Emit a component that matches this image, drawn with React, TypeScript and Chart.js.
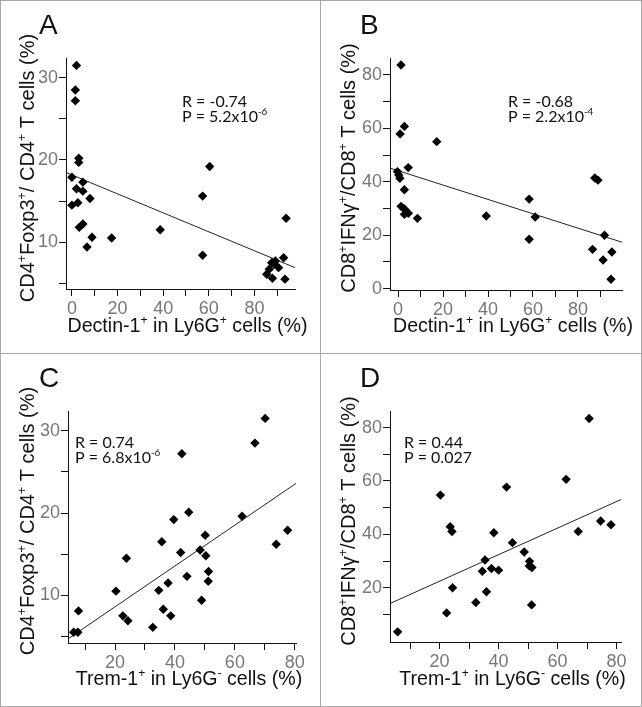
import React, { useEffect, useRef } from 'react';
import { Chart, registerables } from 'chart.js';

Chart.register(...registerables);

// ---------- Data ----------
// Panel A: Dectin-1+ in Ly6G+ (%) vs CD4+Foxp3+/CD4+ (%)
const dectinA = [2.0, 1.5, 1.5, 3.0, 3.0, 0.0, 2.0, 4.8, 4.8, 0.0, 2.6, 7.9, 3.2, 4.8, 8.8, 6.6, 17.4, 38.7, 57.3, 60.4, 57.3, 93.9, 92.8, 93.4, 87.6, 89.2, 90.6, 86.5, 85.4, 87.9, 88.6];
const tregA = [31.5, 28.5, 27.2, 20.2, 19.7, 17.9, 16.5, 17.3, 16.2, 14.5, 14.8, 15.3, 11.8, 12.2, 10.6, 9.4, 10.5, 11.5, 15.6, 19.2, 8.4, 12.9, 8.1, 5.5, 7.5, 7.7, 6.9, 6.7, 6.1, 5.6, 7.3];
const fitAx = [-2.8, 97.8];
const fitAy = [18.5, 6.9];

// Panel B: Dectin-1+ in Ly6G+ (%) vs CD8+IFNg+/CD8+ (%)
const dectinB = [1.3, 0.9, 2.8, 17.2, -0.3, 0.3, 0.8, 4.5, 2.8, 1.3, 2.8, 2.8, 4.6, 8.6, 39.2, 58.3, 61.0, 58.3, 87.5, 88.9, 91.8, 86.5, 91.2, 95.1, 94.7];
const ifngB = [83.7, 57.9, 60.7, 55.0, 43.8, 42.5, 41.3, 45.3, 37.0, 30.8, 29.8, 27.8, 28.2, 26.3, 27.2, 33.5, 26.8, 18.5, 41.4, 40.6, 20.0, 14.7, 10.7, 13.7, 3.5];
const fitBx = [-3.6, 99.9];
const fitBy = [45.1, 17.3];

// Panel C: Trem-1+ in Ly6G- (%) vs CD4+Foxp3+/CD4+ (%)
const tremC = [70.1, 66.7, 42.3, 44.6, 39.6, 62.4, 77.6, 73.8, 50.1, 35.6, 48.4, 41.9, 50.3, 23.8, 51.2, 51.1, 44.0, 37.7, 34.6, 20.3, 48.9, 36.1, 7.8, 22.6, 38.6, 24.3, 32.6, 6.2, 7.6];
const tregC = [31.5, 28.5, 27.2, 20.1, 19.2, 19.6, 17.9, 16.2, 17.3, 16.5, 15.5, 15.2, 14.8, 14.5, 12.9, 11.7, 12.3, 11.5, 10.6, 10.5, 9.4, 8.3, 8.1, 7.5, 7.5, 6.9, 6.1, 5.5, 5.5];
const fitCx = [4.3, 80.4];
const fitCy = [4.7, 23.6];

// Panel D: Trem-1+ in Ly6G- (%) vs CD8+IFNg+/CD8+ (%)
const tremD = [70.7, 62.9, 42.7, 20.3, 23.6, 24.2, 38.4, 67.0, 74.6, 78.1, 44.7, 48.7, 35.4, 50.5, 50.4, 51.3, 37.6, 40.0, 34.5, 24.4, 35.9, 32.3, 51.2, 22.4, 5.8];
const ifngD = [83.4, 60.6, 57.7, 54.7, 42.9, 41.1, 40.6, 41.1, 45.0, 43.6, 36.9, 33.4, 30.4, 29.9, 28.2, 27.6, 27.2, 26.6, 26.2, 20.0, 18.5, 14.5, 13.6, 10.6, 3.5];
const fitDx = [3.2, 81.6];
const fitDy = [14.1, 53.1];

// Ticks
const ticksDectin = [0, 10, 20, 30, 40, 50, 60, 70, 80, 90];
const labelsDectin = [0, 20, 40, 60, 80];
const ticksTrem = [10, 20, 30, 40, 50, 60, 70, 80];
const labelsTrem = [20, 40, 60, 80];
const ticksTreg = [5, 10, 15, 20, 25, 30];
const labelsTreg = [10, 20, 30];
const ticksIfngB = [0, 10, 20, 30, 40, 50, 60, 70, 80];
const ticksIfngD = [10, 20, 30, 40, 50, 60, 70, 80];
const labelsIfngB = [0, 20, 40, 60, 80];
const labelsIfngD = [20, 40, 60, 80];

// ---------- Text ----------
type Seg = { t: string; sup?: boolean };
const titleTreg: Seg[] = [{ t: 'CD4' }, { t: '+', sup: true }, { t: 'Foxp3' }, { t: '+', sup: true }, { t: '/ CD4' }, { t: '+', sup: true }, { t: ' T cells (%)' }];
const titleIfng: Seg[] = [{ t: 'CD8' }, { t: '+', sup: true }, { t: 'IFNγ' }, { t: '+', sup: true }, { t: '/CD8' }, { t: '+', sup: true }, { t: ' T cells (%)' }];
const titleDectin: Seg[] = [{ t: 'Dectin-1' }, { t: '+', sup: true }, { t: ' in Ly6G' }, { t: '+', sup: true }, { t: ' cells (%)' }];
const titleTrem: Seg[] = [{ t: 'Trem-1' }, { t: '+', sup: true }, { t: ' in Ly6G' }, { t: '-', sup: true }, { t: ' cells (%)' }];

const SANS = '"Liberation Sans", Arial, sans-serif';
const STAT = 'Lato, "Liberation Sans", sans-serif';

function drawRich(ctx: CanvasRenderingContext2D, segs: Seg[], x: number, y: number, size: number, family: string, align: 'left' | 'center') {
  const supSize = size * 0.62;
  const widths = segs.map((s) => {
    ctx.font = `${s.sup ? supSize : size}px ${family}`;
    return ctx.measureText(s.t).width;
  });
  const total = widths.reduce((a, b) => a + b, 0);
  let cx = align === 'center' ? x - total / 2 : x;
  ctx.textAlign = 'left';
  ctx.textBaseline = 'alphabetic';
  segs.forEach((s, i) => {
    ctx.font = `${s.sup ? supSize : size}px ${family}`;
    ctx.fillText(s.t, cx, s.sup ? y - size * 0.42 : y);
    cx += widths[i];
  });
}

type PanelCfg = {
  letter: string;
  xs: number[];
  ys: number[];
  fx: number[];
  fy: number[];
  xMin: number; xMax: number; yMin: number; yMax: number;
  xTicks: number[]; xLabels: number[];
  yTicks: number[]; yLabels: number[];
  xTitle: Seg[]; yTitle: Seg[];
  stat: Seg[][];
  statX: number; statY: number;
  area: { left: number; top: number; right: number; bottom: number };
  w: number; h: number;
};

const panels: (PanelCfg & { px: number; py: number })[] = [
  {
    letter: 'A', xs: dectinA, ys: tregA, fx: fitAx, fy: fitAy,
    xMin: -2.6, xMax: 97.8, yMin: 4.3, yMax: 32.4,
    xTicks: ticksDectin, xLabels: labelsDectin, yTicks: ticksTreg, yLabels: labelsTreg,
    xTitle: titleDectin, yTitle: titleTreg,
    stat: [[{ t: 'R = -0.74' }], [{ t: 'P = 5.2x10' }, { t: '-6', sup: true }]],
    statX: 182, statY: 107,
    area: { left: 66, top: 58, right: 295, bottom: 289 }, w: 321, h: 353, px: 0, py: 0,
  },
  {
    letter: 'B', xs: dectinB, ys: ifngB, fx: fitBx, fy: fitBy,
    xMin: -3.6, xMax: 99.6, yMin: -0.5, yMax: 86.3,
    xTicks: ticksDectin, xLabels: labelsDectin, yTicks: ticksIfngB, yLabels: labelsIfngB,
    xTitle: titleDectin, yTitle: titleIfng,
    stat: [[{ t: 'R = -0.68' }], [{ t: 'P = 2.2x10' }, { t: '-4', sup: true }]],
    statX: 187, statY: 107,
    area: { left: 69, top: 58, right: 301, bottom: 290 }, w: 321, h: 353, px: 321, py: 0,
  },
  {
    letter: 'C', xs: tremC, ys: tregC, fx: fitCx, fy: fitCy,
    xMin: 4.3, xMax: 80.4, yMin: 4.2, yMax: 32.4,
    xTicks: ticksTrem, xLabels: labelsTrem, yTicks: ticksTreg, yLabels: labelsTreg,
    xTitle: titleTrem, yTitle: titleTreg,
    stat: [[{ t: 'R = 0.74' }], [{ t: 'P = 6.8x10' }, { t: '-6', sup: true }]],
    statX: 75, statY: 95,
    area: { left: 68, top: 58, right: 296, bottom: 290 }, w: 321, h: 354, px: 0, py: 353,
  },
  {
    letter: 'D', xs: tremD, ys: ifngD, fx: fitDx, fy: fitDy,
    xMin: 3.2, xMax: 81.5, yMin: -0.3, yMax: 86.2,
    xTicks: ticksTrem, xLabels: labelsTrem, yTicks: ticksIfngD, yLabels: labelsIfngD,
    xTitle: titleTrem, yTitle: titleIfng,
    stat: [[{ t: 'R = 0.44' }], [{ t: 'P = 0.027' }]],
    statX: 83, statY: 95,
    area: { left: 69, top: 58, right: 300, bottom: 289 }, w: 321, h: 354, px: 321, py: 353,
  },
];

function Panel({ cfg }: { cfg: PanelCfg & { px: number; py: number } }) {
  const ref = useRef<HTMLCanvasElement | null>(null);
  useEffect(() => {
    if (!ref.current) return;
    const a = cfg.area;
    const textPlugin = {
      id: 'panelText',
      afterDraw(chart: any) {
        const ctx: CanvasRenderingContext2D = chart.ctx;
        const ca = chart.chartArea;
        ctx.save();
        ctx.fillStyle = '#111';
        // letter
        ctx.font = `28px ${SANS}`;
        ctx.textAlign = 'left';
        ctx.textBaseline = 'alphabetic';
        ctx.fillText(cfg.letter, 39, 34);
        // stats
        cfg.stat.forEach((line, i) => {
          drawRich(ctx, line, cfg.statX, cfg.statY + i * 15, 16, STAT, 'left');
        });
        // x title
        drawRich(ctx, cfg.xTitle, (ca.left + ca.right) / 2 + 7, 332, 19.6, SANS, 'center');
        // y title
        ctx.translate(34, 168);
        ctx.rotate(-Math.PI / 2);
        drawRich(ctx, cfg.yTitle, 0, 0, 20, SANS, 'center');
        ctx.restore();
      },
    };
    const chart = new Chart(ref.current, {
      type: 'scatter',
      data: {
        datasets: [
          {
            type: 'scatter',
            data: cfg.xs.map((x, i) => ({ x, y: cfg.ys[i] })),
            pointStyle: 'rectRot',
            pointRadius: 4.7,
            pointHoverRadius: 4.7,
            backgroundColor: '#000',
            borderColor: '#000',
            borderWidth: 0,
          },
          {
            type: 'line',
            data: cfg.fx.map((x, i) => ({ x, y: cfg.fy[i] })),
            borderColor: '#222',
            borderWidth: 1,
            pointRadius: 0,
            fill: false,
          } as any,
        ],
      },
      options: {
        animation: false,
        responsive: false,
        maintainAspectRatio: false,
        events: [],
        layout: { padding: { left: 0, top: a.top, right: cfg.w - a.right, bottom: 0 } },
        plugins: { legend: { display: false }, tooltip: { enabled: false } },
        scales: {
          x: {
            type: 'linear',
            min: cfg.xMin,
            max: cfg.xMax,
            afterBuildTicks: (s: any) => { s.ticks = cfg.xTicks.map((v) => ({ value: v })); },
            afterFit: (s: any) => { s.height = cfg.h - a.bottom; },
            ticks: {
              autoSkip: false,
              maxRotation: 0,
              padding: 2,
              color: '#777',
              font: { family: SANS, size: 18 },
              callback: (v: any) => (cfg.xLabels.includes(Number(v)) ? String(v) : ''),
            },
            grid: { display: true, drawOnChartArea: false, drawTicks: true, tickLength: 7, tickColor: '#111', tickWidth: 1 },
            border: { display: true, color: '#111', width: 1 },
            title: { display: false },
          },
          y: {
            type: 'linear',
            min: cfg.yMin,
            max: cfg.yMax,
            afterBuildTicks: (s: any) => { s.ticks = cfg.yTicks.map((v) => ({ value: v })); },
            afterFit: (s: any) => { s.width = a.left; },
            ticks: {
              autoSkip: false,
              padding: 1,
              color: '#777',
              font: { family: SANS, size: 18 },
              callback: (v: any) => (cfg.yLabels.includes(Number(v)) ? String(v) : ''),
            },
            grid: { display: true, drawOnChartArea: false, drawTicks: true, tickLength: 7, tickColor: '#111', tickWidth: 1 },
            border: { display: true, color: '#111', width: 1 },
            title: { display: false },
          },
        },
      },
      plugins: [textPlugin],
    } as any);
    return () => chart.destroy();
  }, []);
  return (
    <canvas
      ref={ref}
      width={cfg.w}
      height={cfg.h}
      style={{ position: 'absolute', left: cfg.px, top: cfg.py, width: cfg.w, height: cfg.h }}
    />
  );
}

export default function App() {
  return (
    <div style={{ position: 'fixed', left: 0, top: 0, width: 642, height: 707, background: '#fff', overflow: 'hidden' }}>
      {panels.map((p) => (
        <Panel key={p.letter} cfg={p} />
      ))}
      <div style={{ position: 'absolute', left: 0, top: 0, width: 642, height: 707, boxSizing: 'border-box', border: '1px solid #a9a9a9', pointerEvents: 'none' }} />
      <div style={{ position: 'absolute', left: 320, top: 0, width: 1, height: 707, background: '#a9a9a9' }} />
      <div style={{ position: 'absolute', left: 0, top: 353, width: 642, height: 1, background: '#a9a9a9' }} />
    </div>
  );
}
